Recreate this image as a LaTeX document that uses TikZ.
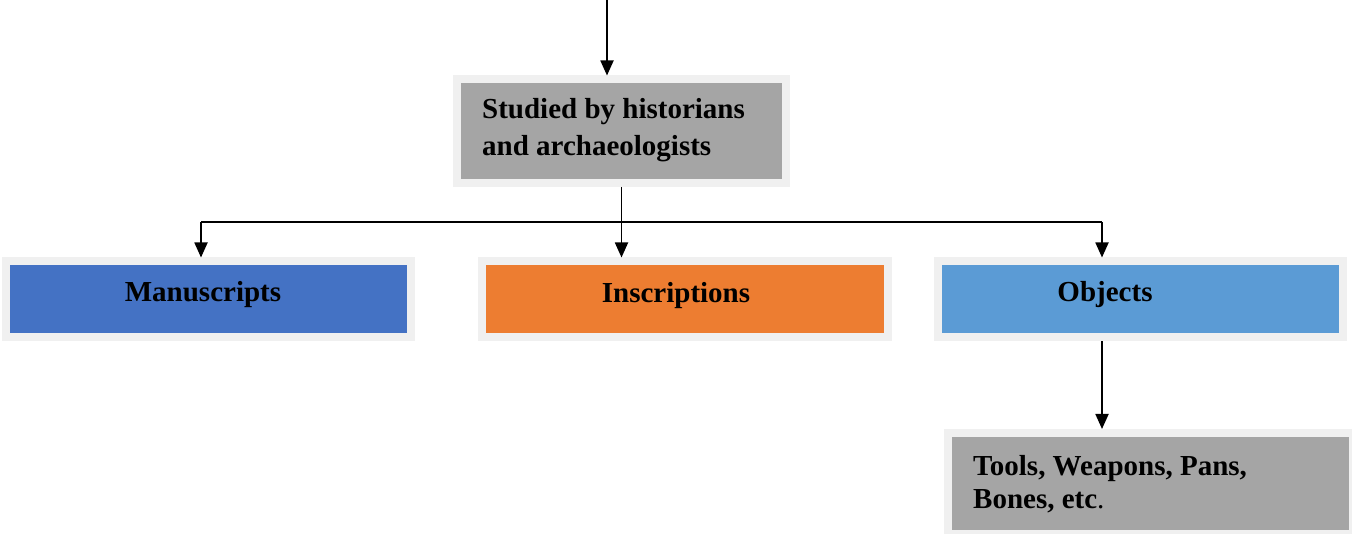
\documentclass[tikz,border=0pt]{standalone}
\usepackage{fontspec}
\setmainfont{Liberation Serif}
\usetikzlibrary{arrows.meta}
\definecolor{rim}{HTML}{F0F0F0}
\definecolor{cgray}{HTML}{A5A5A5}
\definecolor{cblue}{HTML}{4472C4}
\definecolor{corange}{HTML}{ED7D31}
\definecolor{clight}{HTML}{5B9BD5}
\tikzset{
  box/.style={draw=rim, line width=8pt, inner sep=0pt, rectangle},
  lbl/.style={inner sep=0pt, font=\fontsize{29}{35}\selectfont\bfseries},
  conn/.style={line width=1.8pt, draw=black},
  arr/.style={conn, -{Triangle[width=13pt,length=15pt]}}
}
\begin{document}
\begin{tikzpicture}[x=1pt,y=-1pt]
\useasboundingbox (0,0) rectangle (1352,534);
\clip (0,0) rectangle (1352,534);
% boxes (midline of the light rim)
\node[box, fill=cgray, minimum width=329pt, minimum height=103.5pt] (top) at (621.5,131.25) {};
\node[box, fill=cblue, minimum width=405pt, minimum height=76pt] (man) at (208.5,299.5) {};
\node[box, fill=corange, minimum width=406.5pt, minimum height=76pt] (ins) at (684.75,299.5) {};
\node[box, fill=clight, minimum width=405.5pt, minimum height=76pt] (obj) at (1140.25,299.5) {};
\node[box, fill=cgray, minimum width=405.5pt, minimum height=101pt] (tools) at (1150.25,483.5) {};
% texts
\node[lbl, anchor=base west] (t1) at (482,119) {Studied by historians};
\node[lbl, anchor=base west] (t2) at (482,156) {and archaeologists};
\node[lbl, anchor=base] (tm) at (203,302) {Manuscripts};
\node[lbl, anchor=base] (ti) at (676,303) {Inscriptions};
\node[lbl, anchor=base] (to) at (1105,302) {Objects};
\node[lbl, anchor=base west] (u1) at (973,475) {Tools, Weapons, Pans,};
\node[lbl, anchor=base west] (u2) at (973,508) {Bones, etc\mdseries.};
% connectors
\coordinate (topin) at (607,0);
\coordinate (bl) at (201,222);
\coordinate (br) at (1102,222);
\draw[arr] (topin) -- (topin |- top.north);
\draw[arr] (top.south) -- (top.south |- ins.north);
\draw[conn] (bl) -- (br);
\draw[arr] (bl) -- (bl |- man.north);
\draw[arr] (br) -- (br |- obj.north);
\draw[arr] (br |- obj.south) -- (br |- tools.north);
\end{tikzpicture}
\end{document}
